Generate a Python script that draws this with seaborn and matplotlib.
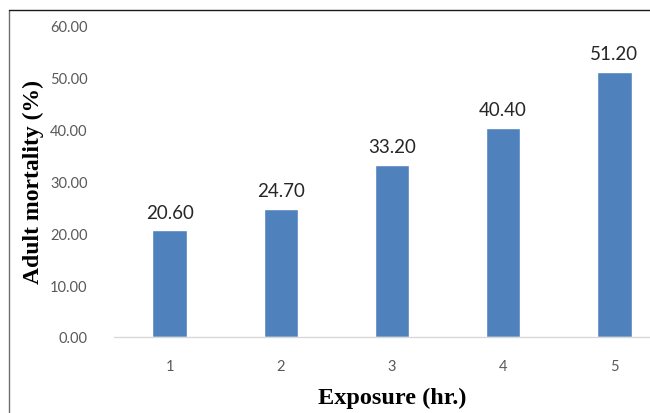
import matplotlib
matplotlib.use("Agg")
import matplotlib.pyplot as plt
from matplotlib.lines import Line2D
import seaborn as sns
import pandas as pd

exposure = ["1", "2", "3", "4", "5"]
mortality = [20.60, 24.70, 33.20, 40.40, 51.20]
y_ticks = [0, 10, 20, 30, 40, 50, 60]

df = pd.DataFrame({"Exposure": exposure, "Mortality": mortality})

sns.set_theme(style="white")
plt.rcParams["font.family"] = ["Lato", "DejaVu Sans"]

W, H = 650, 414
fig = plt.figure(figsize=(W / 100, H / 100), dpi=100)
ax = fig.add_axes([114 / W, (H - 338) / H, 556 / W, (338 - 27) / H])

sns.barplot(data=df, x="Exposure", y="Mortality", color="#4F81BD",
            saturation=1, width=0.31, ax=ax)

ax.set_ylim(0, 60)
ax.set_xlim(-0.5, 4.5)
ax.set_yticks(y_ticks)
ax.set_yticklabels([f"{v:.2f}" for v in y_ticks])
ax.tick_params(axis="y", length=0, pad=19, labelsize=10.5, labelcolor="#595959")
ax.tick_params(axis="x", length=0, pad=16, labelsize=10.5, labelcolor="#595959")

for side in ["top", "right", "left"]:
    ax.spines[side].set_visible(False)
ax.spines["bottom"].set_color("#D9D9D9")
ax.spines["bottom"].set_linewidth(1.0)
ax.grid(False)

ax.bar_label(ax.containers[0], labels=[f"{v:.2f}" for v in mortality],
             padding=7, fontsize=13.5, color="#262626")

serif = ["Liberation Serif", "DejaVu Serif"]
ax.set_xlabel("Exposure (hr.)", fontsize=17.5, fontweight="bold",
              family=serif, color="black", labelpad=10)
ax.set_ylabel("Adult mortality (%)", fontsize=17, fontweight="bold",
              family=serif, color="black")
ax.yaxis.set_label_coords(-70 / 556, 0.5)

# chart frame along the top and left edges
fig.add_artist(Line2D([8.5 / W, 8.5 / W], [0, 1 - 11 / H],
                      transform=fig.transFigure, color="#6E6E6E", lw=1.0))
fig.add_artist(Line2D([8.5 / W, 1], [1 - 11 / H, 1 - 11 / H],
                      transform=fig.transFigure, color="#1A1A1A", lw=1.0))

fig.savefig("out.png", dpi=100)
